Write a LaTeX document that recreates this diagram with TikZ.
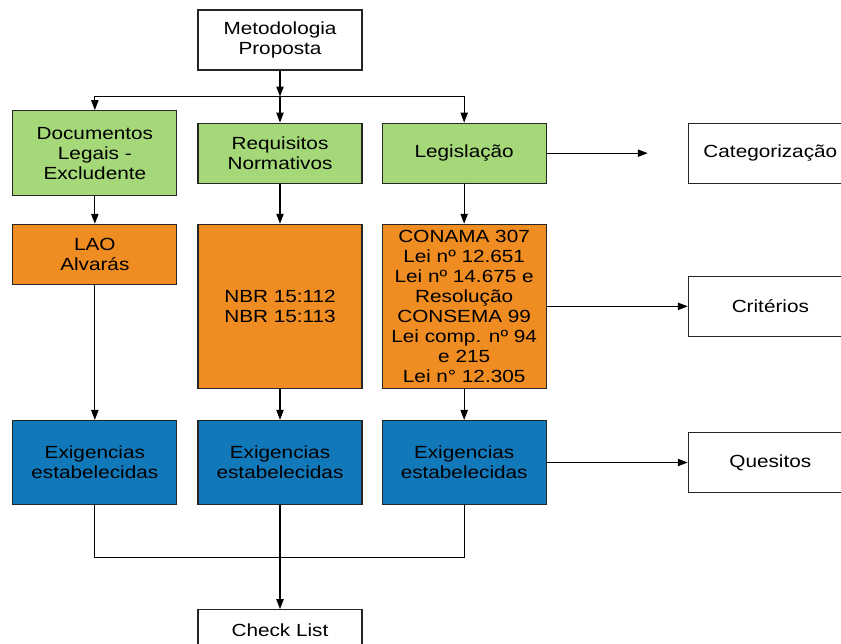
\documentclass[tikz,border=0pt]{standalone}
\usepackage{fontspec}
\setmainfont{Liberation Sans}[FakeStretch=1.18]
\usepackage{xcolor}
\usepackage{tikz}
\usetikzlibrary{arrows.meta, positioning}

\definecolor{legalgreen}{RGB}{165,216,120}
\definecolor{normorange}{RGB}{239,140,34}
\definecolor{reqblue}{RGB}{17,120,185}

\begin{document}
\begin{tikzpicture}[font=\fontsize{15pt}{17pt}\selectfont, line width=1pt,
  >={Triangle[length=3mm, width=2.2mm]},
  box/.style={draw=black!85, minimum width=4.92cm, minimum height=1.8cm,
              inner sep=1pt, align=center},
  grn/.style={box, fill=legalgreen},
  org/.style={box, fill=normorange},
  blu/.style={box, fill=reqblue, minimum height=2.52cm}]
  \clip (0,0) rectangle (25.23,-19.32);
  \node[box] (meto) at (8.4,-1.2) {Metodologia\\Proposta};
  \coordinate[below=0.78cm of meto] (split);
  \node[grn, below=1.56cm of meto] (req) {Requisitos\\Normativos};
  \node[grn, minimum height=2.55cm, left=0.6cm of req] (docs) {Documentos\\Legais -\\Excludente};
  \node[grn, right=0.57cm of req] (leg) {Legislação};
  \node[box, right=4.23cm of leg] (cat) {Categorização};
  \coordinate[left=1.2cm of cat] (catin);
  % normas e leis
  \node[org, minimum height=4.92cm, below=1.2cm of req] (nbr) {NBR 15:112\\NBR 15:113};
  \node[org, left=0.6cm of nbr.north west, anchor=north east] (lao) {LAO\\Alvarás};
  \node[org, minimum height=4.92cm, right=0.57cm of nbr] (conama)
    {CONAMA 307\\Lei nº 12.651\\Lei nº 14.675 e\\Resolução\\CONSEMA 99\\Lei comp. nº 94\\e 215\\Lei n° 12.305};
  \node[box, right=4.23cm of conama] (crit) {Critérios};
  % exigencias
  \node[blu, below=0.93cm of nbr] (ex2) {Exigencias\\estabelecidas};
  \node[blu, left=0.6cm of ex2] (ex1) {Exigencias\\estabelecidas};
  \node[blu, right=0.57cm of ex2] (ex3) {Exigencias\\estabelecidas};
  \node[box, right=4.23cm of ex3] (ques) {Quesitos};
  \coordinate[below=1.56cm of ex2] (join);
  \node[box, minimum height=1.26cm, below=3.12cm of ex2] (check) {Check List};
  \draw[->] (meto) -- (split);
  \draw[->] (split) -- (req);
  \draw[->] (split) -| (docs);
  \draw[->] (split) -| (leg);
  \draw[->] (leg) -- (catin);
  \draw[->] (docs) -- (lao);
  \draw[->] (req) -- (nbr);
  \draw[->] (leg) -- (conama);
  \draw[->] (conama) -- (crit);
  \draw[->] (lao) -- (ex1);
  \draw[->] (nbr) -- (ex2);
  \draw[->] (conama) -- (ex3);
  \draw[->] (ex3) -- (ques);
  \draw (ex1) |- (join) -| (ex3);
  \draw[->] (ex2) -- (check);
\end{tikzpicture}
\end{document}
